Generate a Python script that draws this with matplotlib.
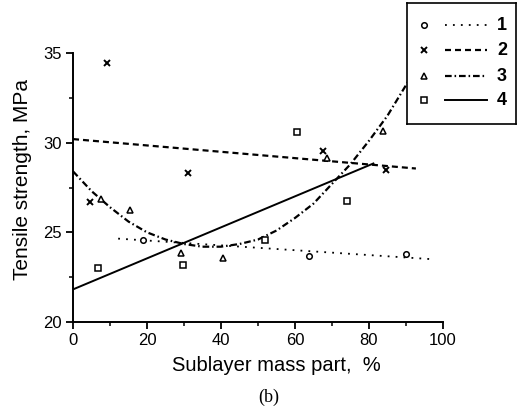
import matplotlib.pyplot as plt
from matplotlib.ticker import MultipleLocator

# data
x1 = [18.9, 63.8, 90.0]
y1 = [24.6, 23.66, 23.77]
fit1_x = [12.2, 97.3]
fit1_y = [24.65, 23.5]

x2 = [4.6, 9.1, 31.0, 67.5, 84.6]
y2 = [26.7, 34.44, 28.33, 29.54, 28.5]
fit2_x = [0, 92.7]
fit2_y = [30.2, 28.56]

x3 = [7.5, 15.4, 29.1, 40.6, 68.8, 83.9]
y3 = [26.84, 26.23, 23.87, 23.59, 29.13, 30.66]
fit3_x = [0, 5, 10, 15, 20, 25, 30, 35, 40, 45, 50, 55, 60, 65, 70, 75, 80, 85, 90, 96]
fit3_y = [28.4, 27.3, 26.4, 25.6, 25.0, 24.6, 24.35, 24.2, 24.2, 24.35, 24.6,
          25.1, 25.8, 26.6, 27.7, 28.8, 30.1, 31.5, 33.2, 35.3]

x4 = [6.8, 29.8, 51.9, 60.5, 74.1]
y4 = [23.0, 23.16, 24.55, 30.57, 26.75]
fit4_x = [0, 81.2]
fit4_y = [21.82, 28.84]

labels = ['1', '2', '3', '4']

plt.rcParams['font.family'] = ['Liberation Sans', 'DejaVu Sans']

# styles: (marker, marker size, edge width, line width, linestyle)
styles = [
    ('o', 4, 1.1, 1.3, (0, (1, 3.4))),
    ('x', 4.5, 1.4, 1.6, (0, (2.7, 1.8))),
    ('^', 4.5, 1.1, 1.6, (0, (3, 1.3, 0.7, 1.3))),
    ('s', 4, 1.1, 1.4, '-'),
]

fig = plt.figure(figsize=(5.18, 4.11), dpi=100)
ax = fig.add_axes([0.141, 0.2165, 0.714, 0.6545])

fits = [(fit1_x, fit1_y), (fit2_x, fit2_y), (fit3_x, fit3_y), (fit4_x, fit4_y)]
pts = [(x1, y1), (x2, y2), (x3, y3), (x4, y4)]

for (fx, fy), (px, py), (m, ms, mew, lw, ls) in zip(fits, pts, styles):
    ax.plot(fx, fy, color='black', lw=lw, linestyle=ls)
    ax.plot(px, py, marker=m, linestyle='none', color='black',
            markerfacecolor='white', markeredgecolor='black',
            markersize=ms, markeredgewidth=mew)

ax.set_xlim(0, 100)
ax.set_ylim(20, 35)
ax.xaxis.set_major_locator(MultipleLocator(20))
ax.xaxis.set_minor_locator(MultipleLocator(10))
ax.yaxis.set_major_locator(MultipleLocator(5))
ax.yaxis.set_minor_locator(MultipleLocator(2.5))
ax.spines['top'].set_visible(False)
ax.spines['right'].set_visible(False)
ax.spines['left'].set_linewidth(1.4)
ax.spines['bottom'].set_linewidth(1.4)
ax.tick_params(which='major', direction='out', length=5, width=1.3, labelsize=12, pad=3)
ax.tick_params(which='minor', direction='out', length=3, width=1.1)

ax.set_xlabel('Sublayer mass part,  %', fontsize=14.5)
ax.xaxis.set_label_coords(0.55, -0.125)
ax.set_ylabel('Tensile strength, MPa', fontsize=15)
ax.yaxis.set_label_coords(-0.11, 0.53)

fig.text(0.519, 0.022, '(b)', fontsize=13, family='Liberation Serif', ha='center')

# legend drawn as its own small box, in pixel units
lax = fig.add_axes([407 / 518, 1 - 124 / 411, 109 / 518, 121 / 411])
lax.set_xlim(0, 109)
lax.set_ylim(121, 0)
lax.set_xticks([])
lax.set_yticks([])
for s in lax.spines.values():
    s.set_linewidth(1.2)
row_y = [22, 47, 73, 97]
for yy, lab, (m, ms, mew, lw, ls) in zip(row_y, labels, styles):
    lax.plot([17], [yy], marker=m, linestyle='none', color='black',
             markerfacecolor='white', markersize=ms, markeredgewidth=mew)
    lax.plot([38, 80], [yy, yy], color='black', lw=lw, linestyle=ls)
    lax.text(90, yy, lab, fontsize=13, fontweight='bold', va='center', ha='left')

fig.savefig('out.png', dpi=100)
